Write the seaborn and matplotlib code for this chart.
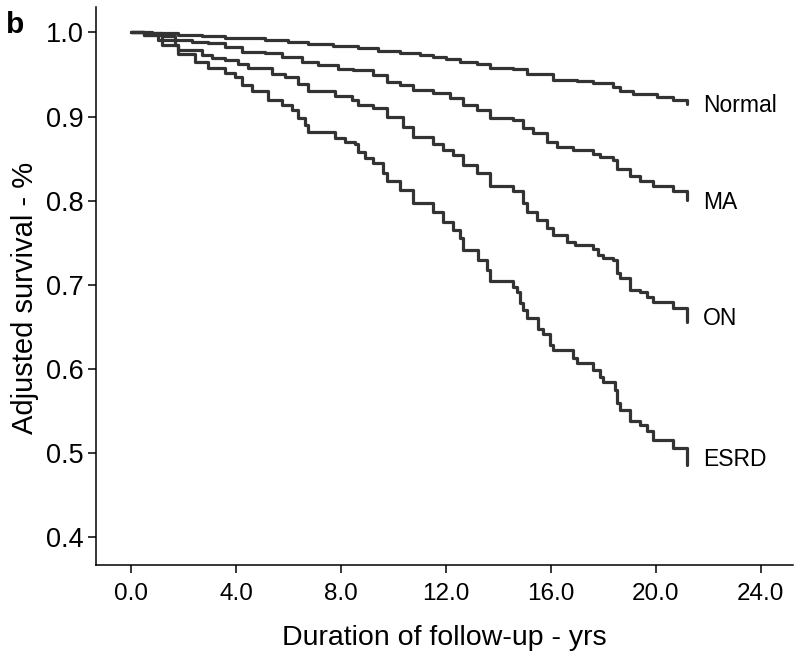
import numpy as np
import pandas as pd
import matplotlib
matplotlib.use("Agg")
import matplotlib.pyplot as plt
import seaborn as sns

# ---- data ----
normal_t = [0.0, 0.8, 1.79, 2.7, 3.58, 4.3, 5.10, 6.0, 6.74, 7.7, 8.65, 9.4, 10.25, 11.0, 11.50, 12.0, 12.53, 13.2, 13.68, 14.55, 15.09, 16.08, 17.0, 17.60, 18.36, 18.63, 19.12, 20.04, 20.65, 21.18, 21.18]
normal_s = [1.000, 0.999, 0.997, 0.996, 0.994, 0.993, 0.991, 0.989, 0.986, 0.984, 0.981, 0.978, 0.975, 0.973, 0.971, 0.968, 0.965, 0.962, 0.958, 0.957, 0.951, 0.944, 0.942, 0.940, 0.935, 0.931, 0.927, 0.923, 0.920, 0.920, 0.915]

ma_t = [0.0, 0.5, 1.2, 1.68, 2.32, 2.93, 3.58, 4.23, 5.10, 5.75, 6.51, 7.12, 7.89, 8.46, 9.22, 9.75, 10.25, 10.74, 11.50, 12.15, 12.65, 13.18, 13.68, 14.55, 14.93, 15.31, 15.85, 16.23, 16.84, 17.60, 17.87, 18.36, 18.51, 19.01, 19.39, 19.89, 20.65, 21.18, 21.18]
ma_s = [1.000, 0.999, 0.996, 0.991, 0.989, 0.987, 0.983, 0.977, 0.975, 0.971, 0.965, 0.961, 0.957, 0.955, 0.949, 0.941, 0.937, 0.932, 0.928, 0.922, 0.914, 0.908, 0.898, 0.896, 0.886, 0.880, 0.870, 0.864, 0.860, 0.856, 0.852, 0.848, 0.838, 0.829, 0.823, 0.817, 0.811, 0.811, 0.801]

on_t = [0.0, 0.5, 1.18, 1.68, 1.79, 2.70, 3.09, 3.58, 4.08, 4.46, 5.37, 5.87, 6.36, 6.74, 7.77, 8.42, 8.65, 9.22, 9.75, 10.36, 10.74, 11.50, 11.89, 12.27, 12.65, 13.18, 13.68, 14.55, 14.93, 15.09, 15.47, 15.85, 16.08, 16.61, 16.91, 17.60, 17.79, 17.98, 18.36, 18.51, 18.63, 19.01, 19.39, 19.66, 19.89, 20.65, 21.18, 21.18]
on_s = [1.000, 0.997, 0.991, 0.985, 0.979, 0.973, 0.970, 0.967, 0.963, 0.958, 0.951, 0.947, 0.939, 0.930, 0.924, 0.920, 0.914, 0.910, 0.900, 0.888, 0.876, 0.868, 0.860, 0.854, 0.842, 0.833, 0.817, 0.811, 0.797, 0.787, 0.777, 0.768, 0.759, 0.751, 0.747, 0.743, 0.735, 0.732, 0.730, 0.714, 0.708, 0.694, 0.692, 0.686, 0.680, 0.672, 0.672, 0.656]

esrd_t = [0.0, 0.5, 1.03, 1.18, 1.79, 2.44, 2.93, 3.58, 3.96, 4.23, 4.61, 5.22, 5.75, 6.13, 6.36, 6.63, 6.74, 7.77, 8.15, 8.53, 8.65, 8.91, 9.22, 9.60, 9.75, 10.25, 10.74, 11.50, 11.89, 12.27, 12.53, 12.65, 13.22, 13.56, 13.68, 14.55, 14.70, 14.82, 14.93, 15.09, 15.50, 15.70, 15.96, 16.08, 16.84, 16.99, 17.60, 17.87, 17.98, 18.44, 18.51, 18.63, 19.01, 19.39, 19.66, 19.89, 20.65, 21.18, 21.18]
esrd_s = [1.000, 0.997, 0.991, 0.985, 0.974, 0.965, 0.958, 0.952, 0.947, 0.937, 0.931, 0.920, 0.914, 0.908, 0.898, 0.890, 0.882, 0.874, 0.870, 0.868, 0.858, 0.851, 0.845, 0.833, 0.823, 0.813, 0.797, 0.787, 0.775, 0.765, 0.756, 0.741, 0.730, 0.718, 0.704, 0.698, 0.692, 0.678, 0.670, 0.661, 0.647, 0.641, 0.629, 0.623, 0.613, 0.607, 0.599, 0.591, 0.585, 0.575, 0.560, 0.551, 0.538, 0.534, 0.526, 0.516, 0.506, 0.506, 0.486]

groups = ["Normal", "MA", "ON", "ESRD"]
label_t = [21.8, 21.8, 21.8, 21.8]
label_s = [0.913, 0.798, 0.660, 0.492]

xticks = [0, 4, 8, 12, 16, 20, 24]
yticks = [0.4, 0.5, 0.6, 0.7, 0.8, 0.9, 1.0]

frames = []
for g, t, s in zip(groups, [normal_t, ma_t, on_t, esrd_t], [normal_s, ma_s, on_s, esrd_s]):
    frames.append(pd.DataFrame({"t": t, "s": s, "group": g}))
df = pd.concat(frames, ignore_index=True)

sns.set_style("white")
plt.rcParams["font.family"] = ["Liberation Sans", "DejaVu Sans"]
plt.rcParams["text.color"] = "black"
plt.rcParams["axes.labelcolor"] = "black"
plt.rcParams["xtick.color"] = "black"
plt.rcParams["ytick.color"] = "black"

fig = plt.figure(figsize=(8, 6.57), dpi=100)
ax = fig.add_axes([0.12, 0.14, 0.871, 0.849])

line_color = "#333333"
sns.lineplot(data=df, x="t", y="s", hue="group", units="group", estimator=None,
             sort=False, palette={g: line_color for g in groups}, legend=False,
             drawstyle="steps-post", linewidth=2.3, ax=ax)

for g, lt, ls in zip(groups, label_t, label_s):
    ax.text(lt, ls, g, ha="left", va="center", fontsize=16.5, color="black")

ax.set_xlim(-1.333, 25.22)
ax.set_ylim(0.367, 1.030)
ax.set_xticks(xticks)
ax.set_xticklabels([f"{v:.1f}" for v in xticks], fontsize=17.5)
ax.set_yticks(yticks)
ax.set_yticklabels([f"{v:.1f}" for v in yticks], fontsize=19.5)
ax.set_xlabel("Duration of follow-up - yrs", fontsize=20.5)
ax.set_ylabel("Adjusted survival - %", fontsize=21)
ax.xaxis.set_label_coords(0.5, -0.155)
ax.xaxis.label.set_va("bottom")
ax.yaxis.set_label_coords(-0.082, 0.478)

for side in ["top", "right"]:
    ax.spines[side].set_visible(False)
for side in ["left", "bottom"]:
    ax.spines[side].set_color("black")
    ax.spines[side].set_linewidth(1.1)
ax.tick_params(axis="x", direction="out", length=6, width=1.1, color="black",
               bottom=True, pad=7)
ax.tick_params(axis="y", direction="out", length=6, width=1.1, color="black",
               left=True, pad=3)

fig.text(0.007, 0.984, "b", fontsize=21.5, fontweight="bold", ha="left", va="top")

fig.savefig("out.png", dpi=100)
